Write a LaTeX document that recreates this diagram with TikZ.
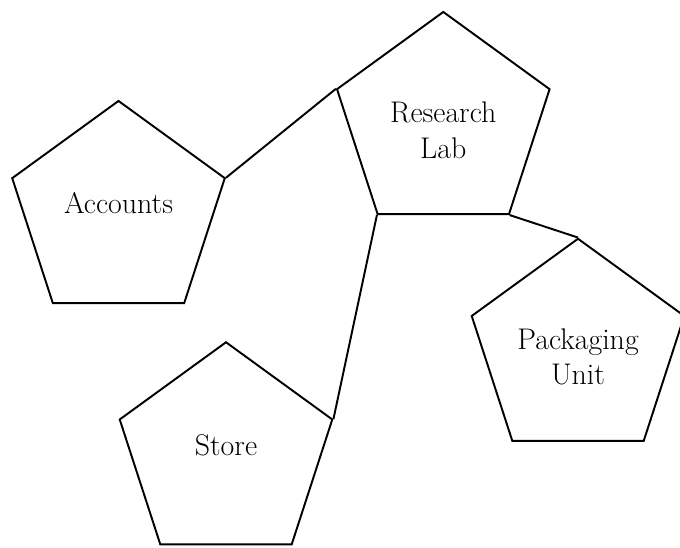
\documentclass[tikz,border=0pt]{standalone}
\usepackage{tikz}
\usetikzlibrary{shapes.geometric}

\begin{document}
\begin{tikzpicture}[line width=1.1pt,
  dept/.style={draw,regular polygon,regular polygon sides=5,minimum size=4.47cm,inner sep=0pt},
  dname/.style={font=\fontsize{17}{20}\selectfont,align=center}]
  \useasboundingbox (0,0) rectangle (13.6,-10.94);
  % departamentos (pentagonos)
  \node[dept,label={[dname,yshift=-0.13cm,name=labt]center:Research\\Lab}] (lab) at (8.866,-2.474) {};
  \node[dept,label={[dname,yshift=0.19cm,name=acct]center:Accounts}] (acc) at (2.37,-4.254) {};
  \node[dept,label={[dname,yshift=-0.13cm,name=pakt]center:Packaging\\Unit}] (pak) at (11.56,-7.01) {};
  \node[dept,label={[dname,yshift=0.18cm,name=stot]center:Store}] (sto) at (4.52,-9.08) {};
  % enlaces entre vertices
  \draw (acc.corner 5)--(lab.corner 2);
  \draw (lab.corner 3)--(sto.corner 5);
  \draw (lab.corner 4)--(pak.corner 1);
\end{tikzpicture}
\end{document}
